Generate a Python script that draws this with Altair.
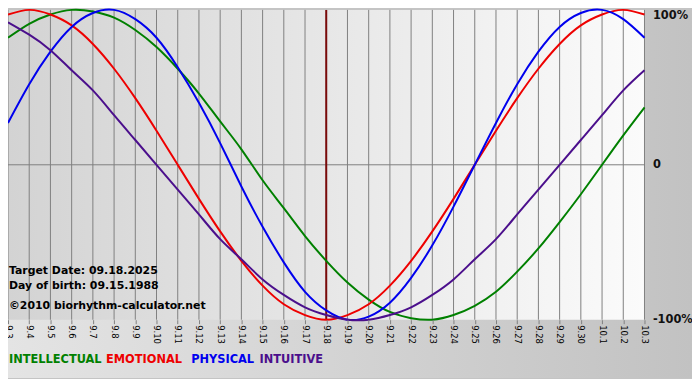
import altair as alt
import pandas as pd

# ---------------- data ----------------
days = ["9.3", "9.4", "9.5", "9.6", "9.7", "9.8", "9.9", "9.10", "9.11", "9.12",
        "9.13", "9.14", "9.15", "9.16", "9.17", "9.18", "9.19", "9.20", "9.21",
        "9.22", "9.23", "9.24", "9.25", "9.26", "9.27", "9.28", "9.29", "9.30",
        "10.1", "10.2", "10.3"]
target_day = "9.18"

series_names = ["INTELLECTUAL", "EMOTIONAL", "PHYSICAL", "INTUITIVE"]
series_colors = ["#008000", "#ee0000", "#0000ee", "#4b0f8c"]

intellectual = [0.82, 0.91, 0.97, 1.00, 0.99, 0.95, 0.87, 0.76, 0.62, 0.46, 0.28,
                0.10, -0.10, -0.28, -0.46, -0.62, -0.76, -0.87, -0.95, -0.99, -1.00,
                -0.97, -0.91, -0.82, -0.69, -0.54, -0.37, -0.19, 0.00, 0.19, 0.37]
emotional = [0.97, 1.00, 0.97, 0.90, 0.78, 0.62, 0.43, 0.22, 0.00, -0.22, -0.43,
             -0.62, -0.78, -0.90, -0.97, -1.00, -0.97, -0.90, -0.78, -0.62, -0.43,
             -0.22, 0.00, 0.22, 0.43, 0.62, 0.78, 0.90, 0.97, 1.00, 0.97]
physical = [0.27, 0.52, 0.73, 0.89, 0.98, 1.00, 0.94, 0.82, 0.63, 0.40, 0.14,
            -0.14, -0.40, -0.63, -0.82, -0.94, -1.00, -0.98, -0.89, -0.73, -0.52,
            -0.27, 0.00, 0.27, 0.52, 0.73, 0.89, 0.98, 1.00, 0.94, 0.82]
intuitive = [0.92, 0.84, 0.74, 0.61, 0.48, 0.32, 0.16, 0.00, -0.16, -0.32, -0.48,
             -0.61, -0.74, -0.84, -0.92, -0.97, -1.00, -1.00, -0.97, -0.92, -0.84,
             -0.74, -0.61, -0.48, -0.32, -0.16, 0.00, 0.16, 0.32, 0.48, 0.61]

y_tick_values = [-1, 0, 1]
y_tick_labels = ["-100%", "0", "100%"]

info_lines = ["Target Date: 09.18.2025", "Day of birth: 09.15.1988",
              "\u00a92010 biorhythm-calculator.net"]

# ---------------- build table ----------------
all_values = [intellectual, emotional, physical, intuitive]
rows = []
for name, vals in zip(series_names, all_values):
    for i, (d, v) in enumerate(zip(days, vals)):
        rows.append({"series": name, "day": d, "idx": i, "val": v})
df = pd.DataFrame(rows)

# ---------------- layout / style ----------------
W, H = 643, 313
FONT = "DejaVu Sans"

x_scale = alt.Scale(type="point", padding=0, domain=days)
x_axis = alt.Axis(labelAngle=90, labelFont=FONT, labelFontSize=8.5, labelColor="#000",
                  tickColor="#808080", tickSize=4, domain=False, grid=False,
                  labelPadding=1, labelOverlap=False, labelFlush=False,
                  labelBound=False, title=None, zindex=1)
X = alt.X("day:O", scale=x_scale, axis=x_axis)

label_expr = ""
for v, t in zip(y_tick_values[:-1], y_tick_labels[:-1]):
    label_expr += f"datum.value == {v} ? '{t}' : "
label_expr += f"'{y_tick_labels[-1]}'"

y_scale = alt.Scale(domain=[-1, 1], nice=False, zero=False)
y_axis = alt.Axis(orient="right", values=y_tick_values, labelExpr=label_expr,
                  ticks=False, domain=False, grid=False, labelFont=FONT,
                  labelFontWeight="bold", labelFontSize=11.5, labelColor="#111",
                  labelPadding=8, title=None, zindex=1,
                  labelBaseline={"condition": {"test": "datum.value == 1", "value": "top"},
                                 "value": "middle"})
Y = alt.Y("val:Q", scale=y_scale, axis=y_axis)

one = pd.DataFrame({"a": [0]})

outer_grad = alt.LinearGradient(
    gradient="linear",
    stops=[alt.GradientStop(color="#e4e4e4", offset=0),
           alt.GradientStop(color="#c2c2c2", offset=1)],
    x1=0, x2=1, y1=0, y2=0)
plot_grad = alt.LinearGradient(
    gradient="linear",
    stops=[alt.GradientStop(color="#d3d3d3", offset=0),
           alt.GradientStop(color="#fbfbfb", offset=1)],
    x1=0, x2=1, y1=0, y2=0)

bg = alt.Chart(one).mark_rect(fill=outer_grad).encode(
    x=alt.value(0), x2=alt.value(692), y=alt.value(0), y2=alt.value(372))
plot_bg = alt.Chart(one).mark_rect(fill=plot_grad).encode(
    x=alt.value(0), x2=alt.value(W), y=alt.value(0), y2=alt.value(H))

grid = alt.Chart(pd.DataFrame({"day": days})).mark_rule(
    color="#808080", strokeWidth=1).encode(x=X)
zero = alt.Chart(pd.DataFrame({"val": [0]})).mark_rule(
    color="#808080", strokeWidth=1).encode(y=Y)
target = alt.Chart(pd.DataFrame({"day": [target_day]})).mark_rule(
    color="#7a0a0a", strokeWidth=2).encode(x=X)

lines = alt.Chart(df).mark_line(strokeWidth=2, interpolate="natural").encode(
    x=X, y=Y,
    color=alt.Color("series:N", scale=alt.Scale(domain=series_names, range=series_colors),
                    legend=None),
    order=alt.Order("idx:Q"))

texts = []
info_y = [264, 279, 299]
for t, yy in zip(info_lines, info_y):
    texts.append(alt.Chart(one).mark_text(
        text=t, align="left", baseline="middle", font=FONT, fontWeight="bold",
        fontSize=11, color="#000").encode(x=alt.value(1), y=alt.value(yy)))

legend_x = [1, 99, 185, 254]
for name, col, xx in zip(series_names, series_colors, legend_x):
    texts.append(alt.Chart(one).mark_text(
        text=name, align="left", baseline="middle", font=FONT, fontWeight="bold",
        fontSize=11.5, color=col).encode(x=alt.value(xx), y=alt.value(354)))

chart = alt.layer(bg, plot_bg, grid, zero, target, lines, *texts).properties(
    width=W, height=H,
    padding={"left": 0, "top": 0, "right": 48, "bottom": 58},
    autosize=alt.AutoSizeParams(type="none"),
    background="#c4c4c4",
).configure_view(strokeWidth=0)

chart.save("out.html", embed_options={"renderer": "svg", "actions": False})
